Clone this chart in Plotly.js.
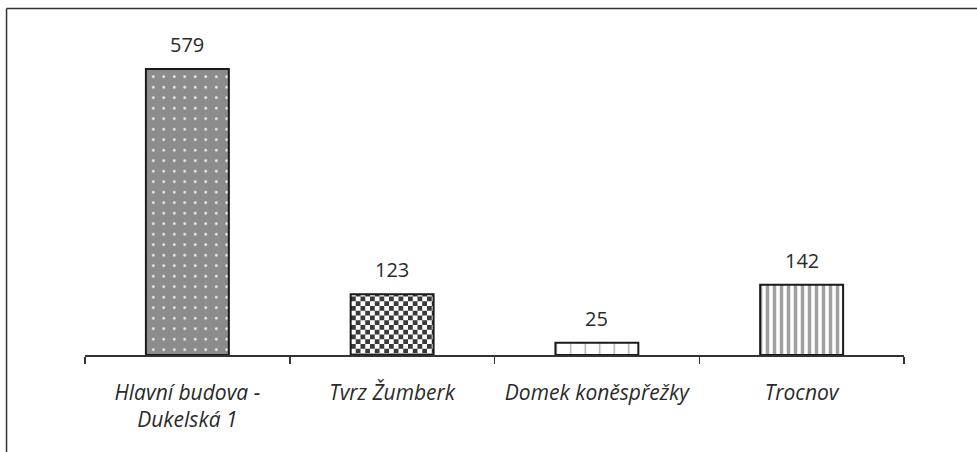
<!DOCTYPE html>
<html>
<head>
<meta charset="utf-8">
<script src="https://cdn.plot.ly/plotly-3.0.1.min.js"></script>
<style>html,body{margin:0;padding:0;background:#fff;}</style>
</head>
<body>
<div id="chart" style="width:977px;height:452px;"></div>
<script>
const categories = ["Hlavní budova -<br>Dukelská 1", "Tvrz Žumberk", "Domek koněspřežky", "Trocnov"];
const values = [579, 123, 25, 142];
const valueLabels = ["579", "123", "25", "142"];

const patterns = [
  {shape: ".", bgcolor: "#8c8c8c", fgcolor: "#f0f0f0", size: 10.5, solidity: 0.05, fillmode: "replace"},
  {shape: "+", bgcolor: "#ffffff", fgcolor: "#333333", size: 10, solidity: 0.5, fillmode: "replace"},
  {shape: "|", bgcolor: "#ffffff", fgcolor: "#b0b0b0", size: 14.5, solidity: 0.1, fillmode: "replace"},
  {shape: "|", bgcolor: "#ffffff", fgcolor: "#a0a0a0", size: 7, solidity: 0.5, fillmode: "replace"}
];

const traces = categories.map((c, i) => ({
  type: "bar",
  x: [c],
  y: [values[i]],
  width: 0.405,
  marker: {
    color: patterns[i].bgcolor,
    pattern: patterns[i],
    line: {color: "#1a1a1a", width: 2}
  },
  showlegend: false,
  hoverinfo: "skip"
}));

const annotations = categories.map((c, i) => ({
  x: c, y: values[i], xref: "x", yref: "y",
  text: valueLabels[i], showarrow: false,
  yanchor: "bottom", yshift: 9,
  font: {family: "Open Sans, Noto Sans, sans-serif", size: 20, color: "#2a2a2a"}
}));

const layout = {
  width: 977, height: 452,
  margin: {l: 85, r: 73, t: 40, b: 97},
  paper_bgcolor: "#fff", plot_bgcolor: "#fff",
  xaxis: {
    type: "category",
    categoryarray: categories,
    tickson: "boundaries",
    ticks: "outside", ticklen: 7, tickwidth: 1.5, tickcolor: "#333",
    showline: true, linecolor: "#333", linewidth: 1.5,
    showgrid: false, zeroline: false,
    tickfont: {family: "Open Sans, Noto Sans, sans-serif", size: 21, color: "#2a2a2a", style: "italic"},
    ticklabelstandoff: 18
  },
  yaxis: {
    range: [0, 637.7], visible: false, showgrid: false, zeroline: false, fixedrange: true
  },
  annotations: annotations,
  shapes: [
    {type: "line", xref: "paper", yref: "paper", x0: -0.0958, x1: 1.1, y0: 1.1, y1: 1.1, line: {color: "#333", width: 1.5}},
    {type: "line", xref: "paper", yref: "paper", x0: -0.0958, x1: -0.0958, y0: 1.1, y1: -0.4, line: {color: "#333", width: 1.5}}
  ]
};

Plotly.newPlot("chart", traces, layout, {displayModeBar: false, staticPlot: true}).then(() => {
  // Turn the second bar's pattern into a checkerboard
  const bars = document.querySelectorAll("#chart .trace.bars");
  if (bars.length > 1) {
    const path = bars[1].querySelector("path");
    const fill = path && path.style.fill;
    const m = fill && fill.match(/url\(["']?#([^"')]+)["']?\)/);
    if (m) {
      const p = document.getElementById(m[1]);
      if (p) {
        const ns = "http://www.w3.org/2000/svg";
        const s = 9.5;
        p.setAttribute("width", s); p.setAttribute("height", s);
        while (p.firstChild) p.removeChild(p.firstChild);
        const mk = (x, y, col) => {
          const r = document.createElementNS(ns, "rect");
          r.setAttribute("x", x); r.setAttribute("y", y);
          r.setAttribute("width", s / 2); r.setAttribute("height", s / 2);
          r.setAttribute("fill", col);
          p.appendChild(r);
        };
        mk(0, 0, "#3a3a3a"); mk(s / 2, 0, "#ffffff");
        mk(0, s / 2, "#ffffff"); mk(s / 2, s / 2, "#3a3a3a");
      }
    }
  }
});
</script>
</body>
</html>
